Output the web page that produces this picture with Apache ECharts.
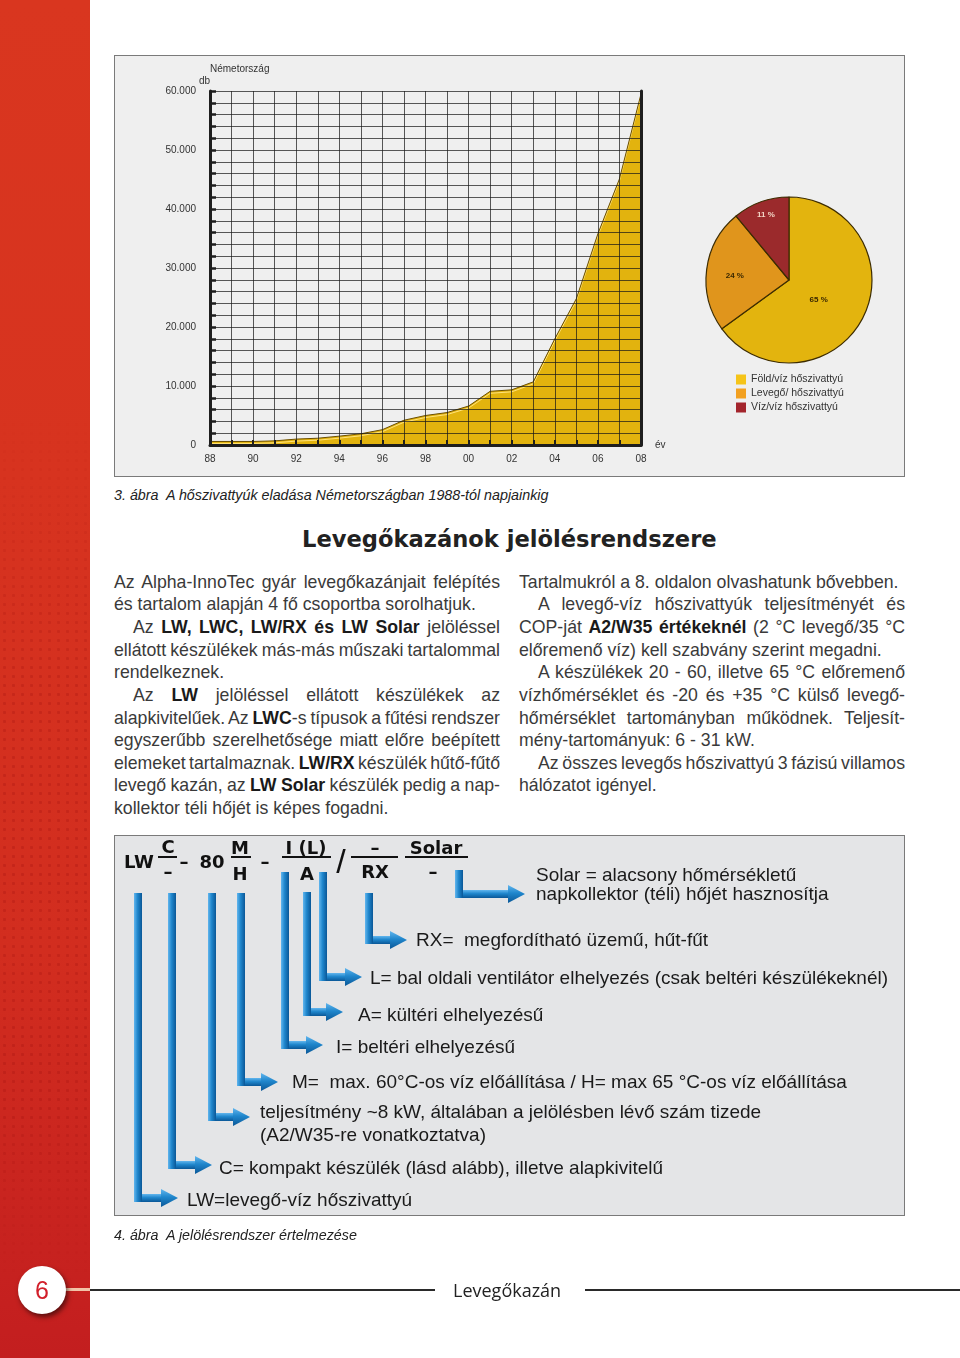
<!DOCTYPE html>
<html><head><meta charset="utf-8">
<script src="https://cdn.jsdelivr.net/npm/echarts@6/dist/echarts.min.js"></script>
<style>
html,body{margin:0;padding:0;width:960px;height:1358px;background:#fff;overflow:hidden;font-family:'Liberation Sans',Arial,sans-serif;color:#333;}
.abs{position:absolute;}
#redbar{left:0;top:0;width:90px;height:1358px;background:linear-gradient(#d9361f 0%,#d7331f 35%,#d22d1f 70%,#c31e1f 100%);}
#dots{left:0;top:420px;width:90px;height:860px;background-image:radial-gradient(circle, rgba(150,10,10,.22) 1.3px, transparent 1.9px);background-size:9px 9px;-webkit-mask-image:linear-gradient(transparent,#000 30%,#000 80%,transparent);mask-image:linear-gradient(transparent,#000 30%,#000 80%,transparent);}
#chartbox{left:114px;top:55px;width:791px;height:422px;box-sizing:border-box;border:1px solid #7a7a7a;background:#efefef;}
#chart{width:789px;height:420px;}
.cap{font-style:italic;font-size:14.3px;color:#222;white-space:nowrap;}
#heading{left:302px;top:525px;font-family:'DejaVu Sans',sans-serif;font-weight:bold;font-size:22.6px;line-height:28px;color:#222;white-space:nowrap;}
.col{position:absolute;top:570.7px;width:386px;font-size:17.7px;line-height:22.65px;color:#3a3a3a;}
.col div{white-space:nowrap;height:22.65px;}
.col .ind{padding-left:19px;}
.col b{color:#1a1a1a;}
#diagram{left:114px;top:835px;width:791px;height:381px;box-sizing:border-box;border:1px solid #7a7a7a;background:#e4e5e7;}
.dt{position:absolute;font-size:19px;line-height:22px;color:#1a1a1a;white-space:nowrap;}
.code{position:absolute;font-family:'DejaVu Sans',sans-serif;font-weight:bold;font-size:18px;line-height:20px;color:#111;transform:translate(-50%,-50%);white-space:nowrap;}
.fl{position:absolute;height:2px;background:#111;}
#footer-circle{left:18px;top:1266px;width:48px;height:48px;border-radius:50%;background:#fff;box-shadow:2px 3px 5px rgba(0,0,0,.55);text-align:center;line-height:48px;font-size:25px;color:#d21f2a;}
</style></head>
<body>
<div id="redbar" class="abs"></div>
<div id="dots" class="abs"></div>

<div id="chartbox" class="abs"><div id="chart"></div></div>
<div class="abs cap" style="left:114px;top:487px;">3. ábra&nbsp; A hőszivattyúk eladása Németországban 1988-tól napjainkig</div>

<div id="heading" class="abs">Levegőkazánok jelölésrendszere</div>

<div class="col" style="left:114px;">
<div class="j">Az Alpha-InnoTec gyár levegőkazánjait felépítés</div>
<div>és tartalom alapján 4 fő csoportba sorolhatjuk.</div>
<div class="j ind">Az <b>LW, LWC, LW/RX és LW Solar</b> jelöléssel</div>
<div class="j">ellátott készülékek más-más műszaki tartalommal</div>
<div>rendelkeznek.</div>
<div class="j ind">Az <b>LW</b> jelöléssel ellátott készülékek az</div>
<div class="j">alapkivitelűek. Az <b>LWC</b>-s típusok a fűtési rendszer</div>
<div class="j">egyszerűbb szerelhetősége miatt előre beépített</div>
<div class="j">elemeket tartalmaznak. <b>LW/RX</b> készülék hűtő-fűtő</div>
<div class="j">levegő kazán, az <b>LW Solar</b> készülék pedig a nap-</div>
<div>kollektor téli hőjét is képes fogadni.</div>
</div>

<div class="col" style="left:519px;">
<div>Tartalmukról a 8. oldalon olvashatunk bővebben.</div>
<div class="j ind">A levegő-víz hőszivattyúk teljesítményét és</div>
<div class="j">COP-ját <b>A2/W35 értékeknél</b> (2 °C levegő/35 °C</div>
<div>előremenő víz) kell szabvány szerint megadni.</div>
<div class="j ind">A készülékek 20 - 60, illetve 65 °C előremenő</div>
<div class="j">vízhőmérséklet és -20 és +35 °C külső levegő-</div>
<div class="j">hőmérséklet tartományban működnek. Teljesít-</div>
<div>mény-tartományuk: 6 - 31 kW.</div>
<div class="j ind">Az összes levegős hőszivattyú 3 fázisú villamos</div>
<div>hálózatot igényel.</div>
</div>

<div id="diagram" class="abs"></div>
<svg id="arrows" class="abs" style="left:0;top:0;" width="960" height="1358">
<defs>
<linearGradient id="gv" x1="0" y1="0" x2="1" y2="0"><stop offset="0" stop-color="#62b6ee"/><stop offset="0.45" stop-color="#1f86cc"/><stop offset="1" stop-color="#0a5797"/></linearGradient>
<linearGradient id="gh" x1="0" y1="0" x2="0" y2="1"><stop offset="0" stop-color="#62b6ee"/><stop offset="0.45" stop-color="#1f86cc"/><stop offset="1" stop-color="#0a5797"/></linearGradient>
</defs>
<g id="arrowg"></g>
</svg>

<div class="code" style="left:139px;top:862px;">LW</div>
<div class="code" style="left:168px;top:847px;">C</div>
<div class="fl" style="left:158px;top:856px;width:19px;"></div>
<div class="code" style="left:168px;top:872px;">–</div>
<div class="code" style="left:184px;top:862px;">–</div>
<div class="code" style="left:212px;top:862px;">80</div>
<div class="code" style="left:240px;top:848px;">M</div>
<div class="fl" style="left:231px;top:856px;width:20px;"></div>
<div class="code" style="left:240px;top:874px;">H</div>
<div class="code" style="left:265px;top:862px;">–</div>
<div class="code" style="left:306px;top:848px;">I (L)</div>
<div class="fl" style="left:282px;top:856px;width:49px;"></div>
<div class="code" style="left:307px;top:874px;">A</div>
<div class="code" style="left:341px;top:861px;font-family:'Liberation Sans',sans-serif;font-weight:normal;font-size:34px;line-height:36px;">/</div>
<div class="code" style="left:375px;top:848px;">–</div>
<div class="fl" style="left:351px;top:856px;width:47px;"></div>
<div class="code" style="left:375px;top:872px;">RX</div>
<div class="code" style="left:436px;top:848px;">Solar</div>
<div class="fl" style="left:405px;top:856px;width:63px;"></div>
<div class="code" style="left:433px;top:872px;">–</div>

<div class="dt" style="left:536px;top:865px;line-height:19px;">Solar = alacsony hőmérsékletű<br>napkollektor (téli) hőjét hasznosítja</div>
<div class="dt" style="left:416px;top:929px;">RX=&nbsp; megfordítható üzemű, hűt-fűt</div>
<div class="dt" style="left:370px;top:967px;">L= bal oldali ventilátor elhelyezés (csak beltéri készülékeknél)</div>
<div class="dt" style="left:358px;top:1004px;">A= kültéri elhelyezésű</div>
<div class="dt" style="left:336px;top:1036px;">I= beltéri elhelyezésű</div>
<div class="dt" style="left:292px;top:1071px;">M=&nbsp; max. 60°C-os víz előállítása / H= max 65 °C-os víz előállítása</div>
<div class="dt" style="left:260px;top:1100px;line-height:23px;">teljesítmény ~8 kW, általában a jelölésben lévő szám tizede<br>(A2/W35-re vonatkoztatva)</div>
<div class="dt" style="left:219px;top:1157px;">C= kompakt készülék (lásd alább), illetve alapkivitelű</div>
<div class="dt" style="left:187px;top:1189px;">LW=levegő-víz hőszivattyú</div>

<div class="abs cap" style="left:114px;top:1227px;">4. ábra&nbsp; A jelölésrendszer értelmezése</div>

<div class="abs" style="left:62px;top:1288px;width:28px;height:3px;background:#f2c3a8;"></div>
<div class="abs" style="left:90px;top:1289px;width:345px;height:2px;background:#2a2a2a;"></div>
<div class="abs" style="left:585px;top:1289px;width:375px;height:2px;background:#2a2a2a;"></div>
<div class="abs" style="left:453px;top:1277px;font-family:'Open Sans',sans-serif;font-size:18px;line-height:26px;color:#222;white-space:nowrap;">Levegőkazán</div>
<div id="footer-circle" class="abs">6</div>

<script>
// ---- data ----
const years = ['88','89','90','91','92','93','94','95','96','97','98','99','00','01','02','03','04','05','06','07','08'];
const sales = [600, 600, 600, 700, 1000, 1150, 1500, 1900, 2600, 4200, 5000, 5500, 6600, 9100, 9350, 10700, 18000, 24800, 35800, 45100, 59500];
const pieNames = ['Föld/víz hőszivattyú', 'Levegő/ hőszivattyú', 'Víz/víz hőszivattyú'];
const pieShares = [65, 24, 11];
const pieColors = ['#e3b40e', '#e0951c', '#9b2a2c'];
const legendColors = ['#f5c419', '#f2a020', '#a3242c'];
const pieLabelShift = [[-10, 0], [-10, 1], [-8, -23]];

// ---- justify lines ----
document.querySelectorAll('.col .j').forEach(el => {
  const avail = 386 - (el.classList.contains('ind') ? 19 : 0);
  const r = document.createRange();
  r.selectNodeContents(el);
  const w = r.getBoundingClientRect().width;
  const n = (el.textContent.trim().match(/ /g) || []).length;
  if (n > 0) el.style.wordSpacing = ((avail - w) / n) + 'px';
});

// ---- arrows ----
const arrows = [[138,893,1198,178],[172,893,1165,212],[212,893,1117,250],[241,893,1082,278],[285,872,1045,323],[307,892,1012,343],[323,872,977,362],[369,893,940,407],[459,870,894,525]];
const g = document.getElementById('arrowg');
let svg = '';
arrows.forEach(([cx, y0, y1, tip]) => {
  svg += `<rect x="${cx-4}" y="${y1-4}" width="${tip-16-(cx-4)}" height="8" fill="url(#gh)"/>`;
  svg += `<polygon points="${tip-17},${y1-9} ${tip},${y1} ${tip-17},${y1+9}" fill="url(#gh)"/>`;
  svg += `<rect x="${cx-4}" y="${y0}" width="8" height="${y1+4-y0}" fill="url(#gv)"/>`;
});
g.innerHTML = svg;

// ---- chart ----
const thousands = v => v === 0 ? '0' : String(v / 1000) + '.000';
const chart = echarts.init(document.getElementById('chart'));
const axisDark = '#1e1e1e';
const gridCol = 'rgba(25,25,25,0.72)';
chart.setOption({
  animation: false,
  textStyle: { fontFamily: 'Liberation Sans, Arial, sans-serif' },
  title: { text: 'Németország', left: 95, top: 8, padding: 0, textStyle: { fontSize: 10, fontWeight: 'normal', color: '#333' } },
  legend: {
    orient: 'vertical', left: 621, top: 318, padding: 0, itemWidth: 10, itemHeight: 10, itemGap: 3, itemStyle: { borderWidth: 0 },
    textStyle: { fontSize: 10.5, color: '#333' },
    data: pieNames.map((n, i) => ({ name: n, icon: 'rect', itemStyle: { color: legendColors[i], borderWidth: 0 } }))
  },
  grid: { left: 95, top: 35, width: 431, height: 354 },
  xAxis: {
    type: 'category', data: years, boundaryGap: false, z: 5,
    name: 'év', nameLocation: 'end', nameGap: 14, nameTextStyle: { fontSize: 10, color: '#333' },
    axisLine: { lineStyle: { color: axisDark, width: 3 } },
    axisTick: { show: true, inside: true, interval: 0, length: 5, lineStyle: { color: axisDark, width: 2 } },
    axisLabel: { interval: 1, fontSize: 10, color: '#333', margin: 9 },
    splitLine: { show: true, interval: 0, lineStyle: { color: gridCol, width: 1 } }
  },
  yAxis: [{
    type: 'value', min: 0, max: 60000, interval: 2000, z: 5,
    name: 'db', nameLocation: 'end', nameGap: 3, nameTextStyle: { fontSize: 10, color: '#333', align: 'right', padding: [0, 0, 0, 0] },
    axisLine: { show: true, lineStyle: { color: axisDark, width: 3 } },
    axisTick: { show: true, inside: true, length: 6, lineStyle: { color: axisDark, width: 2.5 } },
    axisLabel: { formatter: v => (v % 10000 === 0 ? thousands(v) : ''), fontSize: 10, color: '#333', margin: 14 },
    splitLine: { show: true, lineStyle: { color: gridCol, width: 1 } }
  }, {
    type: 'value', position: 'right', min: 0, max: 60000, interval: 2000, z: 5,
    axisLine: { show: true, lineStyle: { color: axisDark, width: 3 } },
    axisTick: { show: false }, axisLabel: { show: false }, splitLine: { show: false }
  }],
  series: [{
    type: 'line', data: sales, symbol: 'none', z: 2,
    lineStyle: { color: '#6a4e00', width: 1, shadowColor: '#ffe27a', shadowOffsetY: 2, shadowBlur: 0 },
    areaStyle: { color: '#e2b30e', opacity: 1 }
  }, {
    type: 'pie', center: [674, 224], radius: 83, startAngle: 90, clockwise: true, z: 3,
    itemStyle: { borderColor: '#3d2c00', borderWidth: 1.2 },
    data: pieNames.map((n, i) => ({
      name: n, value: pieShares[i], itemStyle: { color: pieColors[i] },
      label: { color: i === 2 ? '#f3d6c6' : '#3a2800' }
    })),
    label: { show: true, position: 'inside', formatter: '{c} %', fontSize: 8, fontWeight: 'bold' },
    labelLine: { show: false },
    labelLayout: p => ({ dx: pieLabelShift[p.dataIndex][0], dy: pieLabelShift[p.dataIndex][1] }),
    emphasis: { disabled: true }
  }]
});
</script>
</body></html>
